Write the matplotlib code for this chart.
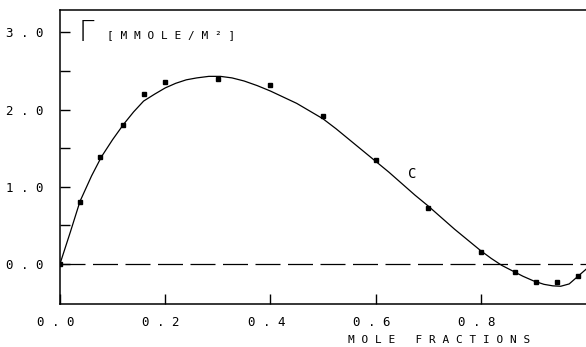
import matplotlib
matplotlib.use("Agg")
import matplotlib.pyplot as plt
from matplotlib.transforms import ScaledTranslation

# measured points (squares)
pts_x = [0.0, 0.038, 0.076, 0.12, 0.16, 0.20, 0.30, 0.40, 0.50, 0.60, 0.70, 0.80, 0.865, 0.905, 0.944, 0.984]
pts_y = [0.0, 0.80, 1.39, 1.80, 2.20, 2.36, 2.40, 2.32, 1.91, 1.35, 0.73, 0.16, -0.11, -0.24, -0.24, -0.16]

# fitted curve
curve_x = [0.0, 0.02, 0.038, 0.06, 0.079, 0.10, 0.121, 0.14, 0.159, 0.18, 0.20, 0.22, 0.24, 0.26,
           0.283, 0.305, 0.327, 0.35, 0.375, 0.40, 0.425, 0.45, 0.475, 0.50, 0.525, 0.55, 0.575,
           0.60, 0.625, 0.65, 0.675, 0.70, 0.725, 0.75, 0.775, 0.80, 0.82, 0.84, 0.86, 0.88,
           0.90, 0.92, 0.937, 0.952, 0.968, 0.984, 1.0]
curve_y = [0.0, 0.42, 0.81, 1.14, 1.39, 1.61, 1.81, 1.97, 2.11, 2.20, 2.28, 2.34, 2.385, 2.41,
           2.43, 2.43, 2.41, 2.37, 2.31, 2.24, 2.16, 2.08, 1.98, 1.88, 1.75, 1.61, 1.47,
           1.33, 1.19, 1.04, 0.89, 0.75, 0.60, 0.45, 0.31, 0.17, 0.07, -0.02, -0.09, -0.16,
           -0.22, -0.265, -0.285, -0.29, -0.26, -0.165, -0.07]

xticks = [0.0, 0.2, 0.4, 0.6, 0.8]
xtick_labels = ["0.0", "0.2", "0.4", "0.6", "0.8"]
yticks = [0.0, 1.0, 2.0, 3.0]
ytick_labels = ["0.0", "1.0", "2.0", "3.0"]
yminor = [0.5, 1.5, 2.5]

def spaced(s):
    return " ".join(list(s))

mono = "DejaVu Sans Mono"

fig = plt.figure(figsize=(5.86, 3.47), dpi=100)
ax = fig.add_axes([60/586, 1-304/347, 1-60/586, (304-10)/347])

ax.plot(curve_x, curve_y, color="black", lw=0.9)
ax.plot(pts_x, pts_y, "s", color="black", ms=3.5)
ax.axhline(0.0, color="black", lw=0.9, dashes=(20, 6))

ax.set_xlim(0.0, 1.0)
ax.set_ylim(-0.52, 3.29)

ax.set_xticks(xticks)
ax.set_xticklabels([spaced(t) for t in xtick_labels], family=mono, fontsize=9)
ax.set_yticks(yticks)
ax.set_yticklabels([spaced(t) for t in ytick_labels], family=mono, fontsize=9)
ax.set_yticks(yminor, minor=True)
ax.tick_params(axis="both", which="both", direction="in", length=7, width=1.0, color="black")
ax.tick_params(axis="y", which="major", pad=12)
ax.tick_params(axis="x", which="major", pad=9)
ax.tick_params(axis="x", which="both", bottom=True, top=False)
ax.tick_params(axis="y", which="both", left=True, right=False)
shift = ScaledTranslation(-4/100, 0, fig.dpi_scale_trans)
for lab in ax.get_xticklabels():
    lab.set_transform(lab.get_transform() + shift)

ax.spines["right"].set_visible(False)
for s in ["left", "bottom", "top"]:
    ax.spines[s].set_linewidth(1.1)

ax.text(0.035, 2.99, "Γ", family="DejaVu Sans", fontsize=20, fontweight="light",
        ha="left", va="center")
ax.text(0.09, 2.97, spaced("[MMOLE/M²]"), family=mono, fontsize=8, ha="left", va="center")
ax.text(0.67, 1.16, "C", family=mono, fontsize=10, ha="center", va="center")

fig.text(439/586, 1-340/347, spaced("MOLE") + "   " + spaced("FRACTIONS"), family=mono,
         fontsize=8, ha="center", va="center")

fig.savefig("out.png", dpi=100)
